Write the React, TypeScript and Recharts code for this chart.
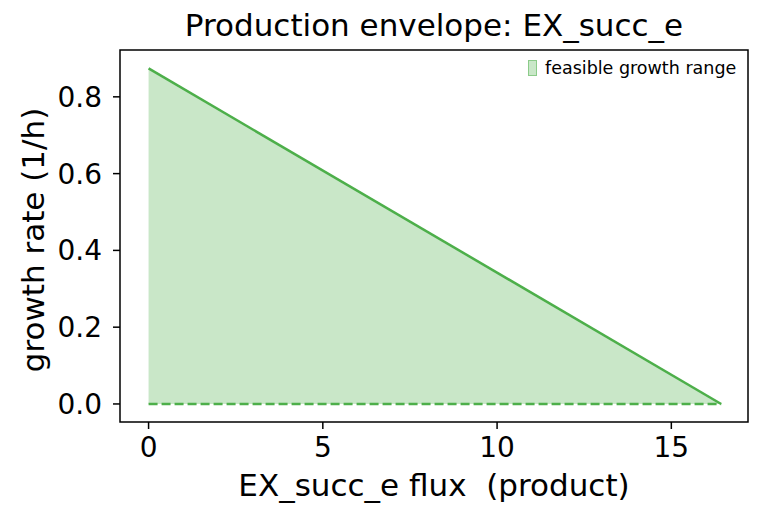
import React from "react";
import {
  ComposedChart,
  Area,
  Line,
  XAxis,
  YAxis,
  ReferenceArea,
} from "recharts";

// production envelope: min / max growth at each product flux
const fluxValues = [0, 16.43];
const maxGrowth = [0.874, 0];
const minGrowth = [0, 0];

const xTicks = [0, 5, 10, 15];
const yTicks = [0, 0.2, 0.4, 0.6, 0.8];
const xDomain: [number, number] = [-0.82, 17.2];
const yDomain: [number, number] = [-0.047, 0.922];

const GREEN = "#4daf4a";
const FONT = "'DejaVu Sans', sans-serif";

const data = fluxValues.map((flux, i) => ({
  flux,
  max: maxGrowth[i],
  min: minGrowth[i],
  range: [minGrowth[i], maxGrowth[i]],
}));

const tickStyle = { fill: "#000", fontSize: 28, fontFamily: FONT };

export default function App() {
  return (
    <div
      style={{
        position: "absolute",
        left: 0,
        top: 0,
        width: 764,
        height: 520,
        background: "#fff",
        fontFamily: FONT,
      }}
    >
      <div
        style={{
          position: "absolute",
          left: 120,
          width: 628,
          top: 7,
          textAlign: "center",
          fontSize: 31,
          whiteSpace: "nowrap",
        }}
      >
        Production envelope: EX_succ_e
      </div>

      <ComposedChart
        width={764}
        height={520}
        data={data}
        margin={{ top: 50, right: 16, bottom: 0, left: 0 }}
      >
        <XAxis
          dataKey="flux"
          type="number"
          domain={xDomain}
          ticks={xTicks}
          allowDataOverflow
          height={98}
          tickSize={7}
          tickMargin={8}
          tick={tickStyle}
          tickLine={{ stroke: "#000", strokeWidth: 1.5 }}
          axisLine={false}
        />
        <YAxis
          type="number"
          domain={yDomain}
          ticks={yTicks}
          allowDataOverflow
          width={120}
          tickSize={7}
          tickMargin={11}
          tick={tickStyle}
          tickFormatter={(v: number) => v.toFixed(1)}
          tickLine={{ stroke: "#000", strokeWidth: 1.5 }}
          axisLine={false}
        />
        <Area
          type="linear"
          dataKey="range"
          fill={GREEN}
          fillOpacity={0.3}
          stroke="none"
          isAnimationActive={false}
        />
        <Line
          type="linear"
          dataKey="max"
          stroke={GREEN}
          strokeWidth={2.5}
          dot={false}
          isAnimationActive={false}
        />
        <Line
          type="linear"
          dataKey="min"
          stroke={GREEN}
          strokeWidth={2.5}
          strokeDasharray="9 4"
          dot={false}
          isAnimationActive={false}
        />
        {/* axes frame */}
        <ReferenceArea
          x1={xDomain[0]}
          x2={xDomain[1]}
          y1={yDomain[0]}
          y2={yDomain[1]}
          fill="none"
          fillOpacity={0}
          stroke="#000"
          strokeWidth={1.5}
          ifOverflow="visible"
        />
      </ComposedChart>

      <div
        style={{
          position: "absolute",
          left: 120,
          width: 628,
          top: 467,
          textAlign: "center",
          fontSize: 31,
          whiteSpace: "nowrap",
        }}
      >
        EX_succ_e flux&nbsp;&nbsp;(product)
      </div>

      <div
        style={{
          position: "absolute",
          left: 33,
          top: 240,
          transform: "translate(-50%, -50%) rotate(-90deg)",
          fontSize: 31,
          whiteSpace: "nowrap",
        }}
      >
        growth rate (1/h)
      </div>

      <div
        style={{
          position: "absolute",
          left: 528,
          top: 58,
          display: "flex",
          alignItems: "center",
          fontSize: 17.5,
          whiteSpace: "nowrap",
        }}
      >
        <span
          style={{
            display: "inline-block",
            width: 9,
            height: 16,
            boxSizing: "border-box",
            background: "rgba(77,175,74,0.3)",
            border: "1px solid rgba(77,175,74,0.5)",
            marginRight: 8,
          }}
        />
        feasible growth range
      </div>
    </div>
  );
}
